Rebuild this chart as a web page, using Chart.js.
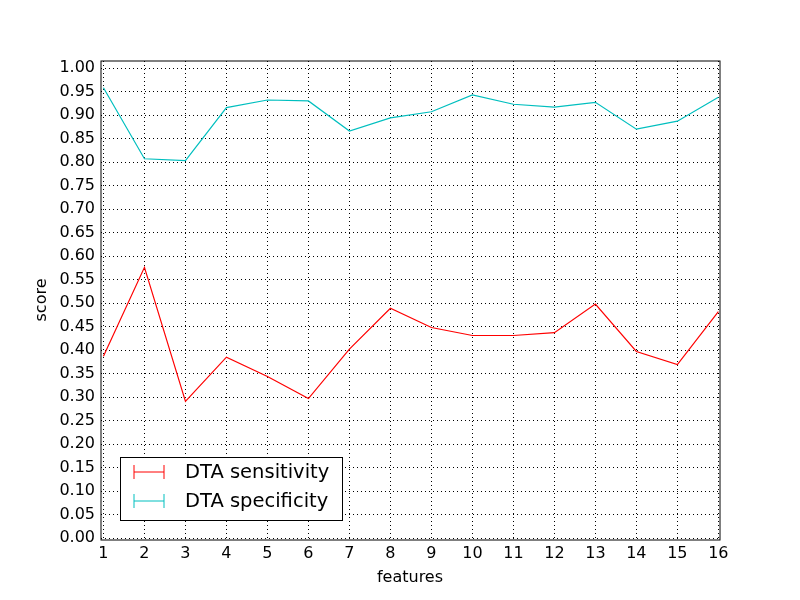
<!DOCTYPE html>
<html><head>
<script src="https://cdn.jsdelivr.net/npm/chart.js@4"></script>
<style>body{margin:0;background:#fff}</style>
</head><body>
<canvas id="c" width="800" height="600"></canvas>
<script>
const features = [1,2,3,4,5,6,7,8,9,10,11,12,13,14,15,16];
const sensitivity = [0.387,0.576,0.291,0.385,0.344,0.297,0.402,0.489,0.448,0.431,0.431,0.437,0.498,0.397,0.369,0.482];
const specificity = [0.958,0.807,0.803,0.916,0.932,0.930,0.866,0.894,0.907,0.943,0.923,0.917,0.927,0.870,0.887,0.938];
const yTicks = [];
for (let i = 0; i <= 20; i++) yTicks.push(+(i * 0.05).toFixed(2));

const seriesNames = ['DTA sensitivity', 'DTA specificity'];
const seriesColors = ['#ff0000', '#00bfbf'];

const legendPlugin = {
    id: 'mplLegend',
    afterDraw(chart) {
        const ctx = chart.ctx;
        const x0 = 120, y0 = 457, w = 222, h = 63;
        ctx.save();
        ctx.fillStyle = '#fff';
        ctx.fillRect(x0, y0, w, h);
        ctx.strokeStyle = '#000';
        ctx.lineWidth = 1;
        ctx.strokeRect(x0 + 0.5, y0 + 0.5, w, h);
        seriesNames.forEach((name, i) => {
            const y = 472 + i * 29;
            ctx.strokeStyle = seriesColors[i];
            ctx.beginPath();
            ctx.moveTo(134, y); ctx.lineTo(164, y);
            ctx.moveTo(134, y - 7); ctx.lineTo(134, y + 7);
            ctx.moveTo(164, y - 7); ctx.lineTo(164, y + 7);
            ctx.stroke();
            ctx.fillStyle = '#000';
            ctx.font = '19.5px "DejaVu Sans"';
            ctx.textBaseline = 'middle';
            ctx.fillText(name, 185, y + 1);
        });
        // axis titles
        ctx.font = '16px "DejaVu Sans"';
        ctx.textAlign = 'center';
        ctx.fillText('features', 410, 578);
        ctx.translate(42, 300);
        ctx.rotate(-Math.PI / 2);
        ctx.fillText('score', 0, 0);
        ctx.restore();
    }
};

const borderPlugin = {
    id: 'frame',
    afterDatasetsDraw(chart) {
        const a = chart.chartArea, ctx = chart.ctx;
        ctx.save();
        ctx.strokeStyle = '#000';
        ctx.lineWidth = 1;
        ctx.strokeRect(a.left, a.top, a.right - a.left, a.bottom - a.top);
        ctx.restore();
    }
};

new Chart(document.getElementById('c').getContext('2d'), {
    type: 'line',
    data: {
        datasets: seriesNames.map((name, i) => ({
            label: name,
            data: features.map((f, j) => ({ x: f, y: (i === 0 ? sensitivity : specificity)[j] })),
            borderColor: seriesColors[i],
            borderWidth: 1.2,
            pointRadius: 0,
            tension: 0,
            fill: false
        }))
    },
    options: {
        responsive: false,
        animation: false,
        layout: { padding: { top: 61, right: 80, left: 0, bottom: 0 } },
        plugins: { legend: { display: false }, tooltip: { enabled: false } },
        scales: {
            x: {
                type: 'linear', min: 0.94, max: 16.04,
                afterBuildTicks: ax => { ax.ticks = features.map(v => ({ value: v })); },
                afterFit: ax => { ax.height = 60; },
                grid: { color: '#000', lineWidth: 1, drawTicks: false },
                border: { display: false, dash: [1, 3] },
                ticks: { color: '#000', font: { size: 16, family: 'DejaVu Sans' }, maxRotation: 0, padding: 4 }
            },
            y: {
                min: -0.004, max: 1.015,
                afterBuildTicks: ax => { ax.ticks = yTicks.map(v => ({ value: v })); },
                afterFit: ax => { ax.width = 101; },
                grid: { color: '#000', lineWidth: 1, drawTicks: false },
                border: { display: false, dash: [1, 3] },
                ticks: { color: '#000', font: { size: 16, family: 'DejaVu Sans' }, padding: 6, callback: v => v.toFixed(2) }
            }
        }
    },
    plugins: [borderPlugin, legendPlugin]
});
</script>
</body></html>
